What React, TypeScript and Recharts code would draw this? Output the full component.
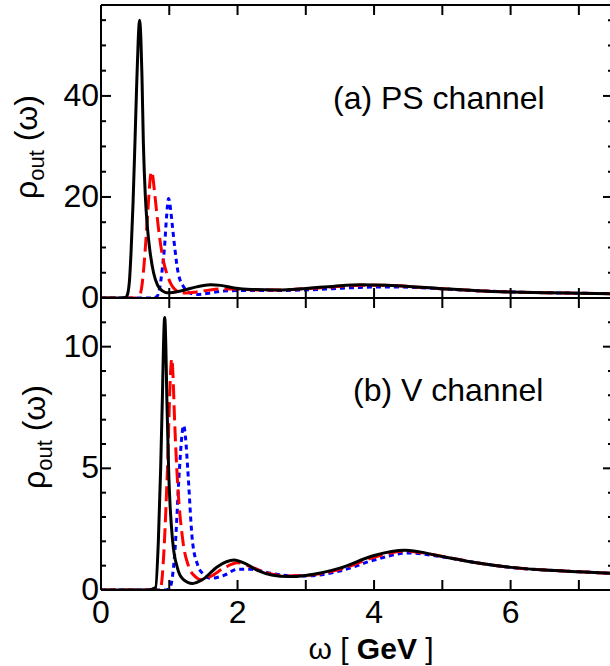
import { Line, LineChart, XAxis, YAxis } from "recharts";

const FONT = '"Liberation Sans", Arial, Helvetica, sans-serif';

// omega axis (GeV)
const omegaTicks = [0, 1, 2, 3, 4, 5, 6, 7];
const omegaLabels = [0, 2, 4, 6];

// (a) PS channel
const psTicks = [0, 5, 10, 15, 20, 25, 30, 35, 40, 45, 50, 55];
const psLabels = [0, 20, 40];
const psSolid: [number, number][] = [
  [0, 0], [0.3, 0], [0.36, 0.1], [0.39, 0.8], [0.42, 4], [0.44, 9], [0.47, 19], [0.5, 32],
  [0.52, 41], [0.545, 51], [0.565, 55], [0.585, 51], [0.6, 44], [0.62, 31], [0.65, 20],
  [0.68, 14], [0.715, 9.5], [0.77, 5], [0.83, 2.5], [0.9, 1.4], [0.96, 1.05], [1.05, 1.1],
  [1.2, 1.5], [1.4, 2.2], [1.6, 2.6], [1.75, 2.5], [1.95, 2.0], [2.2, 1.7], [2.6, 1.6],
  [3.0, 1.9], [3.4, 2.3], [3.8, 2.6], [4.2, 2.5], [4.6, 2.2], [5.0, 1.85], [5.5, 1.45],
  [6.0, 1.2], [6.5, 1.05], [7.0, 0.95], [7.5, 0.85],
];
const psDashed: [number, number][] = [
  [0, 0], [0.5, 0], [0.56, 0.3], [0.6, 2.5], [0.63, 6.5], [0.65, 10], [0.68, 16], [0.7, 20],
  [0.72, 23.5], [0.74, 25], [0.76, 24], [0.78, 21.5], [0.8, 19], [0.84, 14], [0.88, 10],
  [0.92, 7], [0.96, 5], [1.05, 2.2], [1.15, 1.2], [1.25, 1.0], [1.4, 1.2], [1.6, 1.6],
  [1.8, 1.8], [2.0, 1.75], [2.3, 1.6], [2.6, 1.6], [3.0, 1.85], [3.4, 2.2], [3.8, 2.5],
  [4.2, 2.5], [4.6, 2.2], [5.0, 1.85], [5.5, 1.45], [6.0, 1.2], [6.5, 1.05], [7.0, 0.95],
  [7.5, 0.85],
];
const psDotted: [number, number][] = [
  [0, 0], [0.75, 0], [0.82, 0.3], [0.86, 2], [0.9, 6], [0.93, 10], [0.96, 16], [0.99, 19.7],
  [1.02, 17.5], [1.04, 15], [1.08, 10], [1.13, 5], [1.22, 2], [1.3, 1.0], [1.4, 0.7],
  [1.6, 1.0], [1.8, 1.4], [2.2, 1.5], [2.6, 1.5], [3.0, 1.6], [3.4, 1.85], [3.8, 2.1],
  [4.2, 2.2], [4.6, 2.1], [5.0, 1.8], [5.5, 1.45], [6.0, 1.2], [6.5, 1.05], [7.0, 0.95],
  [7.5, 0.85],
];

// (b) V channel
const vTicks = [0, 1, 2, 3, 4, 5, 6, 7, 8, 9, 10, 11];
const vLabels = [0, 5, 10];
const vSolid: [number, number][] = [
  [0, 0], [0.7, 0], [0.8, 0.1], [0.84, 2], [0.874, 5], [0.9, 8], [0.915, 10], [0.933, 11.2],
  [0.95, 10], [0.965, 7.8], [0.99, 5], [1.05, 2], [1.12, 0.9], [1.2, 0.45], [1.34, 0.27],
  [1.5, 0.45], [1.7, 0.95], [1.95, 1.23], [2.1, 1.1], [2.3, 0.8], [2.5, 0.62], [2.75, 0.55],
  [3.0, 0.6], [3.5, 0.9], [4.0, 1.42], [4.45, 1.63], [5.0, 1.38], [5.5, 1.12], [6.0, 0.93],
  [6.5, 0.82], [7.0, 0.75], [7.5, 0.68],
];
const vDashed: [number, number][] = [
  [0, 0], [0.8, 0], [0.874, 0.1], [0.92, 1.5], [0.96, 4], [0.98, 5.5], [1.0, 7.5], [1.02, 9],
  [1.037, 9.5], [1.055, 8.8], [1.075, 7.2], [1.11, 5], [1.2, 2], [1.28, 1.0], [1.38, 0.55],
  [1.47, 0.42], [1.6, 0.55], [1.8, 0.9], [2.0, 1.12], [2.2, 0.95], [2.4, 0.72], [2.7, 0.58],
  [3.0, 0.6], [3.5, 0.85], [4.0, 1.34], [4.45, 1.6], [5.0, 1.38], [5.5, 1.12], [6.0, 0.93],
  [6.5, 0.82], [7.0, 0.75], [7.5, 0.68],
];
const vDotted: [number, number][] = [
  [0, 0], [0.95, 0], [1.01, 0.1], [1.08, 1.5], [1.15, 5], [1.18, 6.2], [1.21, 6.76],
  [1.24, 6.2], [1.27, 5], [1.34, 2], [1.42, 1.0], [1.5, 0.65], [1.61, 0.48], [1.8, 0.6],
  [2.0, 0.85], [2.2, 0.85], [2.5, 0.68], [2.8, 0.58], [3.0, 0.58], [3.5, 0.78], [4.0, 1.23],
  [4.5, 1.52], [5.0, 1.36], [5.5, 1.12], [6.0, 0.93], [6.5, 0.82], [7.0, 0.75], [7.5, 0.68],
];

const toRows = (pts: [number, number][]) => pts.map(([x, y]) => ({ x, y }));

const axisLine = { stroke: "#000", strokeWidth: 2 };

// ticks point into the plot; dir = +1 down, -1 up
const xTick = (dir: number, labels?: number[]) => (props: any) => {
  const { x, y, payload } = props;
  return (
    <g>
      <line x1={x} x2={x} y1={y} y2={y + dir * 10} stroke="#000" strokeWidth={2} />
      {labels && labels.includes(payload.value) && (
        <text x={x} y={y + 33} textAnchor="middle" fontSize={32} fontFamily={FONT} fill="#000">
          {payload.value}
        </text>
      )}
    </g>
  );
};

const yTick = (side: "left" | "right", labels: number[]) => (props: any) => {
  const { x, y, payload } = props;
  const major = labels.includes(payload.value);
  const len = major ? 10 : 5;
  const dir = side === "left" ? 1 : -1;
  return (
    <g>
      <line x1={x} x2={x + dir * len} y1={y} y2={y} stroke="#000" strokeWidth={2} />
      {side === "left" && major && (
        <text x={x - 2} y={y + 10} textAnchor="end" fontSize={32} fontFamily={FONT} fill="#000">
          {payload.value}
        </text>
      )}
    </g>
  );
};

type PanelProps = {
  solid: [number, number][];
  dashed: [number, number][];
  dotted: [number, number][];
  yMax: number;
  yTicks: number[];
  yLabels: number[];
  height: number;
  margin: { top: number; right: number; bottom: number; left: number };
  xAxisHeight: number;
  xLabels?: number[];
};

function Panel({ solid, dashed, dotted, yMax, yTicks, yLabels, height, margin, xAxisHeight, xLabels }: PanelProps) {
  const xCommon = {
    dataKey: "x",
    type: "number" as const,
    domain: [0, 7.5],
    ticks: omegaTicks,
    interval: 0,
    allowDataOverflow: true,
    axisLine,
    tickLine: false,
    tickSize: 0,
    tickMargin: 0,
  };
  const yCommon = {
    type: "number" as const,
    domain: [0, yMax],
    ticks: yTicks,
    interval: 0,
    allowDataOverflow: true,
    axisLine,
    tickLine: false,
    tickSize: 0,
    tickMargin: 0,
  };
  return (
    <LineChart width={625} height={height} margin={margin}>
      <XAxis {...xCommon} height={xAxisHeight} tick={xTick(-1, xLabels)} />
      <XAxis {...xCommon} xAxisId="top" orientation="top" height={1} tick={xTick(1)} />
      <YAxis {...yCommon} width={101} tick={yTick("left", yLabels)} />
      <YAxis {...yCommon} yAxisId="right" orientation="right" width={1} tick={yTick("right", yLabels)} />
      {/* invisible copy so the top/right frame axes get their ticks */}
      <Line data={toRows(solid)} dataKey="y" xAxisId="top" yAxisId="right" stroke="none" dot={false} activeDot={false} isAnimationActive={false} />
      <Line data={toRows(dotted)} dataKey="y" type="monotone" stroke="#0000ff" strokeWidth={3} strokeDasharray="5 4" dot={false} isAnimationActive={false} />
      <Line data={toRows(dashed)} dataKey="y" type="monotone" stroke="#ff0000" strokeWidth={3} strokeDasharray="15 6" dot={false} isAnimationActive={false} />
      <Line data={toRows(solid)} dataKey="y" type="monotone" stroke="#000000" strokeWidth={3} dot={false} isAnimationActive={false} />
    </LineChart>
  );
}

function RhoLabel({ x, y }: { x: number; y: number }) {
  return (
    <text transform={`translate(${x},${y}) rotate(-90)`} textAnchor="middle" fontSize={32} fontFamily={FONT} fill="#000">
      ρ
      <tspan fontSize={22} dy={7}>out</tspan>
      <tspan dy={-7}> (ω)</tspan>
    </text>
  );
}

export default function App() {
  return (
    <div style={{ position: "absolute", left: 0, top: 0, width: 610, height: 666, overflow: "hidden", background: "#fff" }}>
      <div style={{ position: "absolute", left: 0, top: 0 }}>
        <Panel
          solid={psSolid}
          dashed={psDashed}
          dotted={psDotted}
          yMax={58}
          yTicks={psTicks}
          yLabels={psLabels}
          height={322}
          margin={{ top: 4, right: 11, bottom: 23, left: 0 }}
          xAxisHeight={1}
        />
      </div>
      <div style={{ position: "absolute", left: 0, top: 287 }}>
        <Panel
          solid={vSolid}
          dashed={vDashed}
          dotted={vDotted}
          yMax={12}
          yTicks={vTicks}
          yLabels={vLabels}
          height={379}
          margin={{ top: 10, right: 11, bottom: 0, left: 0 }}
          xAxisHeight={76}
          xLabels={omegaLabels}
        />
      </div>
      <svg width={610} height={666} style={{ position: "absolute", left: 0, top: 0, pointerEvents: "none" }}>
        <RhoLabel x={37} y={147} />
        <RhoLabel x={45} y={437} />
        <text x={333} y={109} fontSize={32} fontFamily={FONT} fill="#000">(a) PS channel</text>
        <text x={353} y={401} fontSize={32} fontFamily={FONT} fill="#000">(b) V channel</text>
        <text x={371} y={659} textAnchor="middle" fontSize={30} fontFamily={FONT} fill="#000">
          ω [ <tspan fontWeight="bold">GeV</tspan> ]
        </text>
      </svg>
    </div>
  );
}
